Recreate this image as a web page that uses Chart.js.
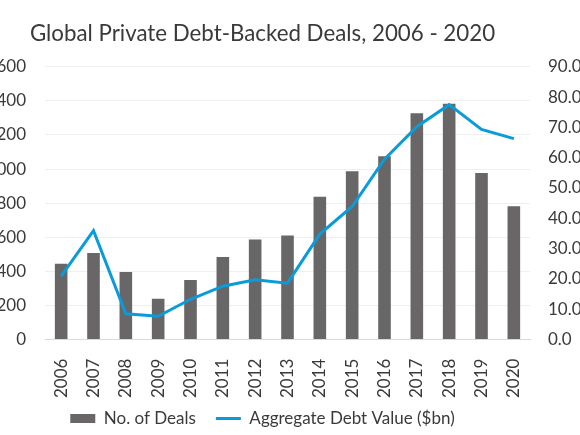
<!DOCTYPE html>
<html>
<head>
<meta charset="utf-8">
<script src="https://cdn.jsdelivr.net/npm/chart.js@4"></script>
<style>
    html, body { margin: 0; padding: 0; background: #ffffff; overflow: hidden; width: 580px; height: 435px; }
    #wrap { position: absolute; left: -60px; top: 0; width: 645px; height: 462px; }
</style>
</head>
<body>
<div id="wrap"><canvas id="grafico"></canvas></div>
<script>
var anos = ['2006', '2007', '2008', '2009', '2010', '2011', '2012', '2013', '2014', '2015', '2016', '2017', '2018', '2019', '2020'];

var numDeals = [445, 508, 396, 240, 350, 484, 587, 610, 838, 987, 1075, 1328, 1383, 977, 782];

var valorDivida = [20.9, 35.9, 8.5, 7.7, 13.3, 17.6, 19.7, 18.6, 34.8, 43.9, 59.5, 70.2, 77.5, 69.3, 66.3];

var fonte = 'Lato, "Open Sans", sans-serif';
var corTexto = '#3a3a3a';

// sobe a legenda um pouco, mais perto dos anos
var subirLegenda = {
    id: 'subirLegenda',
    afterLayout: function (chart) {
        if (chart.legend) {
            chart.legend.top -= 19;
            chart.legend.bottom -= 19;
        }
    }
};

new Chart(document.getElementById('grafico'), {
    type: 'bar',
    data: {
        labels: anos,
        datasets: [{
            label: 'No. of Deals',
            data: numDeals,
            backgroundColor: '#686666',
            borderWidth: 0,
            pointStyle: 'rect',
            categoryPercentage: 1,
            barPercentage: 0.39,
            yAxisID: 'y',
            order: 1
        }, {
            type: 'line',
            label: 'Aggregate Debt Value ($bn)',
            data: valorDivida,
            borderColor: '#0a9bdb',
            backgroundColor: '#0a9bdb',
            borderWidth: 3,
            pointRadius: 0,
            pointStyle: 'line',
            tension: 0,
            yAxisID: 'y1',
            order: 0
        }]
    },
    options: {
        responsive: true,
        maintainAspectRatio: false,
        animation: false,
        layout: { padding: { left: 0, right: 0, top: 0, bottom: 6 } },
        scales: {
            x: {
                grid: { display: false },
                border: { display: true, color: '#d9d9d9' },
                ticks: {
                    color: corTexto,
                    font: { family: fonte, size: 17 },
                    maxRotation: 90,
                    minRotation: 90,
                    padding: 11
                }
            },
            y: {
                position: 'left',
                min: 0,
                max: 1600,
                ticks: {
                    stepSize: 200,
                    color: corTexto,
                    font: { family: fonte, size: 17 },
                    padding: 19
                },
                grid: { color: '#efefef', drawTicks: false },
                border: { display: false },
                afterFit: function (escala) { escala.width = 105; }
            },
            y1: {
                position: 'right',
                min: 0,
                max: 90,
                ticks: {
                    stepSize: 10,
                    color: corTexto,
                    font: { family: fonte, size: 17 },
                    padding: 18,
                    callback: function (v) { return v.toFixed(1); }
                },
                grid: { display: false, drawTicks: false },
                border: { display: false },
                afterFit: function (escala) { escala.width = 55; }
            }
        },
        plugins: {
            title: {
                display: true,
                text: 'Global Private Debt-Backed Deals, 2006 - 2020',
                color: corTexto,
                font: { family: fonte, size: 22.3, weight: 'normal' },
                padding: { top: 20, bottom: 20 }
            },
            legend: {
                position: 'bottom',
                labels: {
                    usePointStyle: true,
                    pointStyleWidth: 25,
                    boxHeight: 9,
                    padding: 20,
                    color: corTexto,
                    font: { family: fonte, size: 17 },
                    sort: function (a, b) { return a.datasetIndex - b.datasetIndex; }
                }
            },
            tooltip: { enabled: false }
        }
    },
    plugins: [subirLegenda]
});
</script>
</body>
</html>
